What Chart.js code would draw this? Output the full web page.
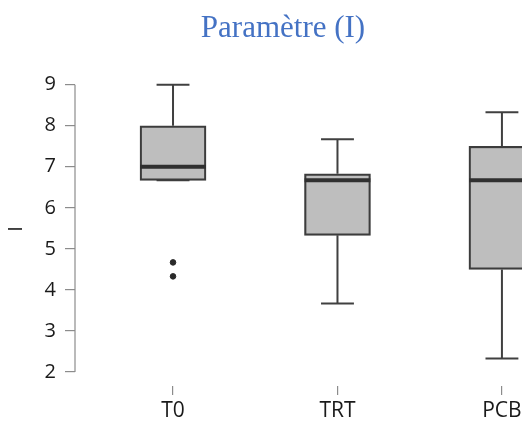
<!DOCTYPE html>
<html>
<head>
<meta charset="utf-8">
<script src="https://cdn.jsdelivr.net/npm/chart.js@4.4.1/dist/chart.umd.min.js"></script>
<style>
  html, body { margin: 0; padding: 0; background: #ffffff; overflow: hidden; }
  canvas { display: block; }
</style>
</head>
<body>
<canvas id="c" width="522" height="423"></canvas>
<script>
// ---- data ----
const titleText = 'Paramètre (I)';
const yTitle = 'I';
const categories = ['T0', 'TRT', 'PCB'];
const whiskerLow  = [6.67, 3.67, 2.33];
const q1          = [6.67, 5.33, 4.50];
const median      = [7.00, 6.67, 6.67];
const q3          = [8.00, 6.83, 7.50];
const whiskerHigh = [9.00, 7.67, 8.33];
const outliers    = [[4.67, 4.33], [], []];
const yTickValues = [2, 3, 4, 5, 6, 7, 8, 9];

// ---- build datasets from the arrays ----
const BOX_HALF = 0.2, CAP_HALF = 0.1;
const boxData = categories.map((c, i) => ({ x: i, y: [q1[i], q3[i]] }));
const whiskerData = [];
const capData = [];
const medianData = [];
categories.forEach((c, i) => {
  whiskerData.push({ x: i, y: whiskerLow[i] }, { x: i, y: q1[i] }, { x: i, y: null });
  whiskerData.push({ x: i, y: q3[i] }, { x: i, y: whiskerHigh[i] }, { x: i, y: null });
  capData.push({ x: i - CAP_HALF, y: whiskerLow[i] }, { x: i + CAP_HALF, y: whiskerLow[i] }, { x: i, y: null });
  capData.push({ x: i - CAP_HALF, y: whiskerHigh[i] }, { x: i + CAP_HALF, y: whiskerHigh[i] }, { x: i, y: null });
  medianData.push({ x: i - BOX_HALF, y: median[i] }, { x: i + BOX_HALF, y: median[i] }, { x: i, y: null });
});
const outlierData = [];
outliers.forEach((arr, i) => arr.forEach(v => outlierData.push({ x: i, y: v })));

const titlePlugin = {
  id: 'titleText',
  afterDraw(chart) {
    const ctx = chart.ctx;
    ctx.save();
    ctx.font = '31px "Liberation Serif", "Times New Roman", serif';
    ctx.fillStyle = '#4472C4';
    ctx.textAlign = 'center';
    ctx.textBaseline = 'middle';
    ctx.fillText(titleText, 283, 29);
    ctx.restore();
  }
};

const yAxisLine = {
  id: 'yAxisLine',
  afterDraw(chart) {
    const y = chart.scales.y;
    const ctx = chart.ctx;
    const x = chart.chartArea.left;
    ctx.save();
    ctx.strokeStyle = '#8c8c8c';
    ctx.lineWidth = 1.2;
    ctx.beginPath();
    ctx.moveTo(x, y.getPixelForValue(yTickValues[0]));
    ctx.lineTo(x, y.getPixelForValue(yTickValues[yTickValues.length - 1]));
    ctx.stroke();
    ctx.restore();
  }
};

const tickFont = { family: '"Open Sans", "Noto Sans", sans-serif', size: 20 };
const xTickFont = { family: '"Open Sans", "Noto Sans", sans-serif', size: 21 };

new Chart(document.getElementById('c'), {
  type: 'bar',
  data: {
    datasets: [
      {
        type: 'line', data: whiskerData, borderColor: '#404040', borderWidth: 2,
        pointRadius: 0, pointHoverRadius: 0, spanGaps: false, order: 4
      },
      {
        type: 'line', data: capData, borderColor: '#404040', borderWidth: 2,
        pointRadius: 0, pointHoverRadius: 0, spanGaps: false, order: 4
      },
      {
        type: 'bar', data: boxData, backgroundColor: '#bebebe', borderColor: '#3c3c3c',
        borderWidth: 2.2, borderSkipped: false, barThickness: 66, order: 3
      },
      {
        type: 'line', data: medianData, borderColor: '#303030', borderWidth: 4,
        pointRadius: 0, pointHoverRadius: 0, spanGaps: false, order: 1, borderCapStyle: 'butt'
      },
      {
        type: 'scatter', data: outlierData, backgroundColor: '#2a2a2a', borderColor: '#2a2a2a',
        pointRadius: 2.8, order: 0
      }
    ]
  },
  plugins: [titlePlugin, yAxisLine],
  options: {
    responsive: false,
    animation: false,
    devicePixelRatio: 1,
    layout: { autoPadding: false, padding: { top: 72, left: 0, right: 0, bottom: 0 } },
    plugins: { legend: { display: false }, tooltip: { enabled: false }, title: { display: false } },
    scales: {
      x: {
        type: 'linear',
        offset: false,
        min: -0.596,
        max: 2.122,
        afterBuildTicks: (scale) => { scale.ticks = categories.map((c, i) => ({ value: i })); },
        afterFit: (scale) => { scale.height = 37; scale.paddingRight = 0; scale.paddingLeft = 0; },
        ticks: {
          callback: (v) => categories[v] ?? '',
          font: xTickFont, color: '#1a1a1a', padding: 3, maxRotation: 0, autoSkip: false
        },
        grid: { offset: false, drawOnChartArea: false, drawTicks: true, tickLength: 9, color: '#8c8c8c', lineWidth: 1.2 },
        border: { display: false }
      },
      y: {
        type: 'linear',
        min: 1.658,
        max: 9.31,
        afterBuildTicks: (scale) => { scale.ticks = yTickValues.map(v => ({ value: v })); },
        afterFit: (scale) => { scale.width = 75; },
        ticks: { font: tickFont, color: '#1a1a1a', padding: 9 },
        grid: { drawOnChartArea: false, drawTicks: true, tickLength: 10, color: '#8c8c8c', lineWidth: 1.2 },
        border: { display: false },
        title: { display: true, text: yTitle, font: tickFont, color: '#1a1a1a', padding: { top: 4, bottom: 0 } }
      }
    }
  }
});
</script>
</body>
</html>
